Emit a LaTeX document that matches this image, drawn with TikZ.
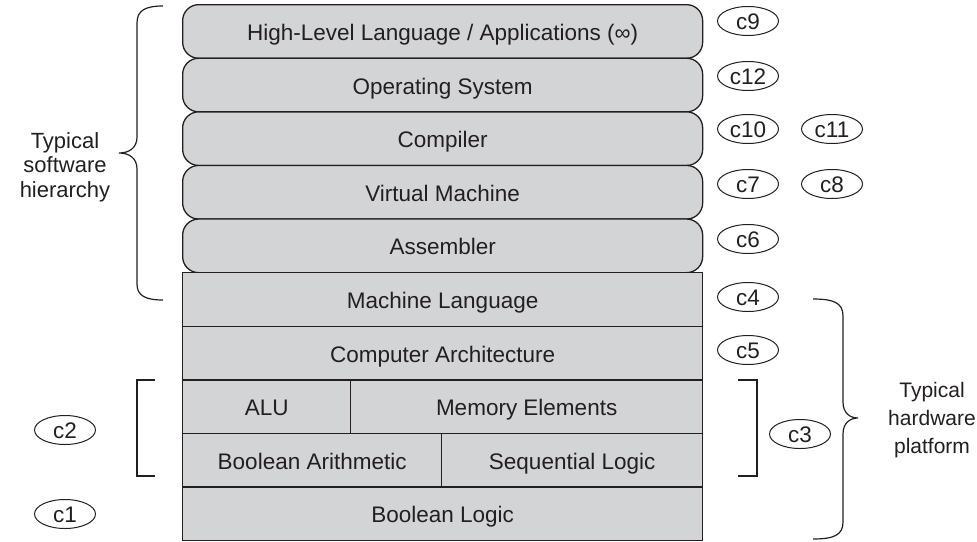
\documentclass[tikz,border=0pt]{standalone}
\usepackage{fontspec}
\setmainfont{Liberation Sans}
\usetikzlibrary{shapes.geometric}
\definecolor{boxfill}{RGB}{211,212,214}
\definecolor{ink}{RGB}{35,31,32}
\begin{document}
\begin{tikzpicture}[x=1pt,y=-1pt,
  font=\fontsize{22.5}{25}\selectfont, text=ink,
  layer/.style={draw=ink, line width=1.3pt, fill=boxfill, minimum height=53.6pt, inner sep=0pt,
    text height=18pt, text depth=0pt, anchor=north west},
  soft/.style={layer, rounded corners=16pt, minimum width=520pt},
  hard/.style={layer},
  tag/.style={ellipse, draw=ink, line width=1pt, minimum width=61pt, minimum height=29pt, inner sep=0pt,
    text height=16pt, text depth=0pt},
  braceline/.style={draw=ink, line width=1.2pt},
  sidetext/.style={align=center, inner sep=0pt}
]
\useasboundingbox (0,0) rectangle (977,541);

% software layers (rounded)
\node[soft] (hl)   at (182,4)     {High-Level Language / Applications (∞)};
\node[soft] (os)   at (182,57.6)  {Operating System};
\node[soft] (comp) at (182,111.2) {Compiler};
\node[soft] (vm)   at (182,164.8) {Virtual Machine};
\node[soft] (asm)  at (182,218.4) {Assembler};

% hardware layers
\node[hard, minimum width=520pt] (ml)  at (182,272)   {Machine Language};
\node[hard, minimum width=520pt] (ca)  at (182,325.6) {Computer Architecture};
\node[hard, minimum width=168pt] (alu) at (182,379.2) {ALU};
\node[hard, minimum width=352pt] (mem) at (350,379.2) {Memory Elements};
\node[hard, minimum width=259pt] (ba)  at (182,432.8) {Boolean Arithmetic};
\node[hard, minimum width=261pt] (sl)  at (441,432.8) {Sequential Logic};
\node[hard, minimum width=520pt] (bl)  at (182,486.4) {Boolean Logic};

% chapter tags
\node[tag] (c9)  at (748,21)  {c9};
\node[tag] (c12) at (748,76)  {c12};
\node[tag] (c10) at (748,129) {c10};
\node[tag] (c11) at (832,129) {c11};
\node[tag] (c7)  at (748,184) {c7};
\node[tag] (c8)  at (832,184) {c8};
\node[tag] (c6)  at (748,239) {c6};
\node[tag] (c4)  at (748,297) {c4};
\node[tag] (c5)  at (748,350) {c5};
\node[tag] (c3)  at (800,434) {c3};
\node[tag] (c2)  at (65,430)  {c2};
\node[tag] (c1)  at (65,514)  {c1};

% square brackets
\draw[braceline] (155,380) -- (137,380) -- (137,476) -- (155,476);
\draw[braceline] (738,380) -- (757,380) -- (757,476) -- (738,476);

% left curly brace
\draw[braceline] (163,6) .. controls (146,6) and (137,10) .. (137,23) -- (137,137)
  .. controls (137,148) and (129,153) .. (119,153)
  .. controls (129,153) and (137,158) .. (137,169) -- (137,284)
  .. controls (137,296) and (146,300) .. (163,300);
\node[sidetext, font=\fontsize{22}{24.5}\selectfont] (sw) at (65,167) {Typical\\software\\hierarchy};

% right curly brace
\draw[braceline] (813,299) .. controls (834,299) and (843,303) .. (843,316) -- (843,402)
  .. controls (843,413) and (850,418) .. (858,418)
  .. controls (850,418) and (843,423) .. (843,434) -- (843,522)
  .. controls (843,535) and (834,539) .. (813,539);
\node[sidetext, font=\fontsize{21}{28}\selectfont] (hw) at (932,420) {Typical\\hardware\\platform};
\end{tikzpicture}
\end{document}
